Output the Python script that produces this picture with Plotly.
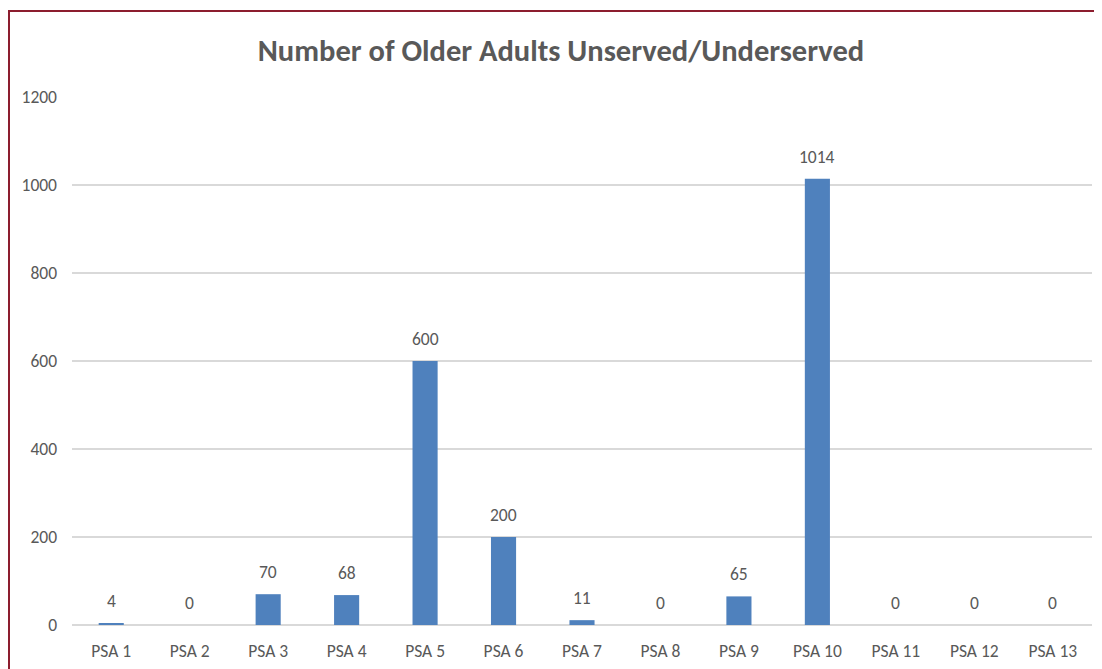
import plotly.graph_objects as go

categories = ["PSA 1", "PSA 2", "PSA 3", "PSA 4", "PSA 5", "PSA 6", "PSA 7",
              "PSA 8", "PSA 9", "PSA 10", "PSA 11", "PSA 12", "PSA 13"]
values = [4, 0, 70, 68, 600, 200, 11, 0, 65, 1014, 0, 0, 0]
y_ticks = [0, 200, 400, 600, 800, 1000, 1200]

# page has an 8px body offset
OFF = 8
W, H = 1102 - OFF, 669 - OFF
ml, mt = 72 - OFF, 97 - OFF
pw, ph = 1020, 528
mr, mb = W - ml - pw, H - mt - ph

def px_x(x):
    return (x - OFF - ml) / pw

def px_y(y):
    return 1 - (y - OFF - mt) / ph

font_family = "Carlito, Liberation Sans, Arial, sans-serif"
gray = "#595959"
fs = 17.5

fig = go.Figure(go.Bar(
    x=categories, y=values,
    marker=dict(color="#4f81bd", line=dict(width=0)),
    width=0.32,
    cliponaxis=False,
))

for c, v in zip(categories, values):
    fig.add_annotation(x=c, y=v, xref="x", yref="y", text=str(v),
                       showarrow=False, yanchor="bottom", yshift=9,
                       font=dict(family=font_family, size=fs, color=gray))

border = "#8c1d2e"
fig.update_layout(
    width=W, height=H,
    margin=dict(l=ml, r=mr, t=mt, b=mb, autoexpand=False),
    paper_bgcolor="white", plot_bgcolor="white",
    title=dict(text="<b>Number of Older Adults Unserved/Underserved</b>",
               x=(561 - OFF) / W, xanchor="center", xref="container",
               y=1 - (50 - OFF) / H, yanchor="middle", yref="container",
               font=dict(family=font_family, size=30.5, color=gray)),
    showlegend=False,
    xaxis=dict(showgrid=False, showline=False, ticks="", automargin=False,
               ticklabelstandoff=13,
               tickfont=dict(family=font_family, size=fs, color=gray)),
    yaxis=dict(range=[0, 1200], tickvals=y_ticks, showgrid=True,
               automargin=False,
               gridcolor="#d9d9d9", gridwidth=1.5, zeroline=True,
               zerolinecolor="#d9d9d9", zerolinewidth=1.5, ticks="",
               ticklabelstandoff=14,
               tickfont=dict(family=font_family, size=fs, color=gray)),
    shapes=[
        dict(type="line", xref="paper", yref="paper",
             x0=px_x(9), x1=px_x(9), y0=px_y(10), y1=px_y(680),
             line=dict(color=border, width=2)),
        dict(type="line", xref="paper", yref="paper",
             x0=px_x(8), x1=px_x(1110), y0=px_y(11), y1=px_y(11),
             line=dict(color=border, width=2)),
    ],
)

fig.write_html("out.html")
